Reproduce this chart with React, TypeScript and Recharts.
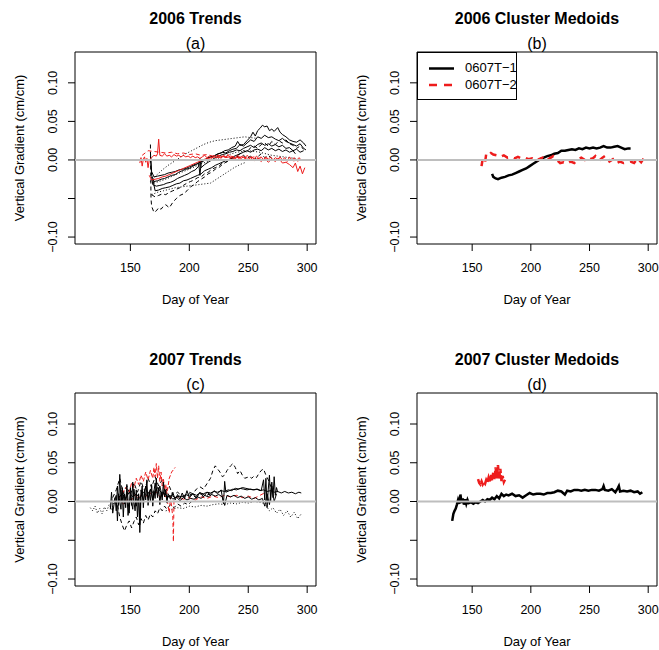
import { LineChart, Line, XAxis, YAxis, ReferenceLine, ReferenceArea } from 'recharts'

type Pt = [number, number]

// ---- 2006 trends (a) ----
const a06Solid1: Pt[] = [[167,0.005],[168,-0.015],[170,-0.022],[173,-0.021],[176,-0.020],[179,-0.019],[182,-0.017],[185,-0.016],[188,-0.015],[191,-0.013],[194,-0.012],[197,-0.011],[200,-0.009],[203,-0.007],[206,-0.005],[209,-0.003],[212,-0.001],[215,0.002],[218,0.004],[221,0.005],[224,0.008],[227,0.009],[230,0.012],[233,0.013],[236,0.016],[239,0.018],[241,0.024],[243,0.019],[246,0.020],[249,0.025],[252,0.030],[254,0.036],[256,0.031],[258,0.038],[260,0.041],[262,0.045],[264,0.043],[266,0.044],[268,0.038],[270,0.040],[272,0.037],[275,0.042],[277,0.036],[279,0.033],[282,0.030],[285,0.026],[288,0.024],[291,0.023],[294,0.026],[297,0.022],[299,0.018]]
const a06Solid2: Pt[] = [[167,0.010],[168,-0.020],[170,-0.028],[173,-0.027],[176,-0.025],[179,-0.024],[182,-0.022],[185,-0.020],[188,-0.019],[191,-0.016],[194,-0.014],[197,-0.012],[200,-0.011],[203,-0.008],[206,-0.006],[208,-0.004],[209,-0.020],[210,-0.004],[213,0.000],[216,0.003],[219,0.004],[222,0.006],[225,0.008],[228,0.010],[231,0.009],[234,0.012],[237,0.014],[240,0.015],[243,0.020],[246,0.018],[249,0.022],[252,0.026],[255,0.024],[258,0.030],[261,0.028],[264,0.032],[267,0.029],[270,0.030],[273,0.027],[276,0.025],[279,0.028],[282,0.024],[285,0.022],[288,0.020],[291,0.018],[294,0.021],[297,0.015],[299,0.013]]
const a06Solid3: Pt[] = [[168,-0.022],[169,-0.032],[172,-0.034],[175,-0.033],[178,-0.032],[181,-0.030],[184,-0.029],[187,-0.027],[190,-0.024],[193,-0.022],[196,-0.020],[199,-0.018],[202,-0.015],[205,-0.013],[208,-0.008],[209,0.002],[210,-0.010],[213,-0.006],[216,-0.003],[219,0.000],[222,0.003],[225,0.005],[228,0.007],[231,0.008],[234,0.010],[237,0.011],[240,0.013],[243,0.012],[246,0.015],[249,0.017],[252,0.019],[255,0.016],[258,0.020],[261,0.022],[264,0.019],[267,0.021],[270,0.018],[273,0.020],[276,0.017],[279,0.019],[282,0.015],[285,0.016],[288,0.012],[291,0.014],[294,0.010],[297,0.012]]
const a06Solid4: Pt[] = [[169,-0.025],[171,-0.040],[174,-0.039],[177,-0.037],[180,-0.036],[183,-0.035],[186,-0.033],[189,-0.031],[192,-0.030],[195,-0.027],[198,-0.026],[201,-0.024],[204,-0.022],[207,-0.020],[210,-0.018],[213,-0.014],[216,-0.012],[219,-0.010],[222,-0.007],[225,-0.005],[228,-0.003],[231,-0.001],[234,0.001],[237,0.004],[240,0.006],[243,0.008],[246,0.010],[249,0.012],[252,0.010],[255,0.013],[258,0.014],[261,0.012],[264,0.016],[267,0.013],[270,0.015],[273,0.012],[276,0.014],[279,0.011],[282,0.013],[285,0.010],[288,0.012],[290,0.008]]
const a06Dash1: Pt[] = [[167,0.020],[167.5,-0.050],[168,-0.060],[170,-0.068],[172,-0.066],[174,-0.062],[176,-0.064],[178,-0.060],[180,-0.058],[183,-0.062],[186,-0.055],[189,-0.050],[192,-0.046],[195,-0.044],[198,-0.040],[201,-0.035],[204,-0.032],[207,-0.028],[210,-0.025],[213,-0.022],[216,-0.018],[219,-0.016],[222,-0.012],[225,-0.010],[228,-0.006],[231,-0.003],[234,0.000],[237,0.003],[240,0.005],[243,0.003],[246,0.006],[249,0.002],[252,0.005],[255,0.000],[258,0.004],[261,0.008],[264,0.003],[267,0.006],[270,0.002]]
const a06Dash2: Pt[] = [[168,-0.045],[171,-0.048],[174,-0.046],[177,-0.044],[180,-0.045],[183,-0.042],[186,-0.040],[189,-0.038],[192,-0.036],[195,-0.033],[198,-0.030],[201,-0.028],[204,-0.026],[207,-0.023],[210,-0.022],[213,-0.018],[216,-0.016],[219,-0.012],[222,-0.010],[225,-0.008],[228,-0.004],[231,-0.003],[234,0.000],[237,0.002],[240,0.005],[243,0.008],[246,0.012],[249,0.010],[252,0.016],[255,0.018],[258,0.015],[261,0.020],[264,0.022],[267,0.018],[270,0.024],[273,0.020],[276,0.025],[279,0.022],[282,0.026],[285,0.021],[288,0.019],[291,0.015],[294,0.018],[297,0.014]]
const a06Dot1: Pt[] = [[167,-0.028],[172,-0.020],[177,-0.013],[182,-0.007],[187,-0.002],[192,0.003],[197,0.008],[202,0.012],[207,0.016],[212,0.020],[217,0.023],[222,0.025],[227,0.026],[232,0.027],[237,0.028],[242,0.029],[247,0.030],[252,0.029],[257,0.028]]
const a06Dot2: Pt[] = [[168,-0.045],[173,-0.042],[178,-0.040],[183,-0.038],[188,-0.036],[193,-0.035],[198,-0.034],[203,-0.033],[208,-0.032],[213,-0.031],[218,-0.030],[223,-0.025],[228,-0.020],[233,-0.015],[238,-0.010],[243,-0.006],[248,-0.003]]
const a06Dot3: Pt[] = [[170,-0.030],[180,-0.025],[190,-0.018],[200,-0.012],[210,-0.005],[220,0.000],[230,0.005],[240,0.010],[250,0.012],[260,0.010],[270,0.006],[280,0.004],[290,0.002]]
const a06Red1: Pt[] = [[158,-0.004],[159,0.003],[160,-0.008],[161,0.001],[162,0.004],[163,-0.003],[164,0.002],[165,-0.010],[166,0.000],[168,0.003],[170,0.006],[172,0.005],[173,0.008],[174,0.027],[175,0.006],[177,0.005],[179,0.008],[181,0.005],[183,0.006],[185,0.004],[187,0.007],[189,0.005],[191,0.006],[193,0.004],[195,0.006],[197,0.004],[199,0.005],[201,0.003],[203,0.005],[205,0.003],[207,0.004],[209,0.002],[211,0.004],[213,0.006],[215,0.003],[217,0.005],[219,0.002],[221,0.006],[223,0.003],[225,0.005],[227,0.002],[229,0.006],[231,0.003],[233,0.007],[235,0.002],[237,0.005],[239,0.001],[241,0.006],[243,0.003],[245,0.005],[247,0.002],[249,0.006],[251,0.003],[253,0.004],[255,0.001],[257,0.005],[259,0.002],[261,0.004],[263,0.000],[265,0.003],[267,0.001],[269,0.004],[271,0.000],[273,0.003],[275,0.001],[277,0.004],[279,0.000],[281,0.003],[283,-0.002],[285,0.004],[287,0.000],[289,0.003],[291,-0.001],[293,0.003],[295,0.000]]
const a06Red2: Pt[] = [[166,-0.020],[168,-0.026],[171,-0.025],[174,-0.024],[177,-0.022],[180,-0.021],[183,-0.019],[186,-0.017],[189,-0.015],[192,-0.013],[195,-0.011],[198,-0.009],[201,-0.007],[204,-0.005],[207,-0.003],[210,-0.001],[213,0.001],[216,0.002],[219,0.003],[222,0.004],[225,0.003],[228,0.005],[231,0.003],[234,0.004],[237,0.002],[240,0.004],[243,0.001],[246,0.004],[249,0.000],[252,0.003],[255,-0.001],[258,0.002],[261,-0.002],[264,0.002],[267,-0.003],[270,0.001],[273,-0.002],[276,0.002],[279,-0.004],[282,-0.003],[285,-0.006],[288,-0.010],[290,-0.004],[292,-0.015],[294,-0.008],[296,-0.018],[298,-0.010]]
const a06Red3: Pt[] = [[160,0.006],[165,0.012],[170,0.011],[175,0.010],[180,0.009],[185,0.010],[190,0.008],[195,0.009],[200,0.007],[205,0.008],[210,0.006],[215,0.007],[220,0.005],[225,0.006],[230,0.004],[235,0.005],[240,0.003],[245,0.004],[250,0.002],[255,0.004],[260,0.001],[265,0.003],[270,0.000],[275,0.002],[280,-0.001],[285,0.001],[290,-0.002],[295,0.000]]

// ---- 2006 medoids (b) ----
const b06Med1: Pt[] = [[167,-0.018],[168,-0.022],[170,-0.024],[172,-0.025],[175,-0.023],[178,-0.022],[181,-0.020],[184,-0.019],[187,-0.017],[190,-0.015],[193,-0.013],[196,-0.011],[199,-0.008],[202,-0.005],[205,-0.002],[208,0.001],[211,0.003],[214,0.005],[217,0.006],[220,0.008],[223,0.009],[226,0.012],[229,0.012],[232,0.013],[235,0.014],[238,0.013],[241,0.015],[244,0.014],[247,0.016],[250,0.015],[253,0.016],[256,0.015],[259,0.016],[262,0.018],[265,0.016],[268,0.016],[271,0.017],[274,0.018],[277,0.016],[280,0.014],[283,0.015],[285,0.015]]
const b06Med2: Pt[] = [[158,-0.008],[159,0.002],[161,-0.003],[162,0.008],[164,0.006],[166,0.009],[168,0.007],[171,0.006],[174,0.004],[177,0.006],[180,0.003],[183,0.004],[186,0.002],[189,0.004],[192,0.002],[195,0.003],[198,0.001],[201,0.002],[204,-0.002],[207,0.001],[210,0.003],[213,-0.001],[216,0.002],[219,0.005],[222,0.000],[225,-0.004],[228,-0.003],[231,-0.005],[234,-0.002],[237,-0.004],[240,0.001],[243,0.003],[246,0.000],[249,0.004],[252,0.001],[255,0.005],[258,-0.001],[261,0.003],[264,0.006],[267,-0.002],[270,0.001],[273,-0.004],[276,-0.002],[279,-0.004],[282,-0.003],[285,-0.002],[288,-0.004],[291,0.002],[294,-0.003],[297,0.004],[300,0.003]]

// ---- 2007 trends (c) ----
const c07Solid1: Pt[] = [[133,-0.010],[134,0.012],[135,-0.015],[137,0.005],[138,-0.012],[139,0.020],[140,-0.005],[141,0.035],[142,0.000],[143,0.015],[144,-0.020],[145,0.010],[146,-0.008],[147,0.022],[148,0.002],[149,-0.015],[150,0.018],[151,-0.005],[152,0.025],[153,0.000],[154,-0.012],[155,0.015],[156,-0.020],[157,0.010],[158,-0.040],[159,0.005],[160,0.020],[161,-0.008],[162,0.015],[163,0.002],[164,0.028],[165,-0.005],[166,0.012],[167,0.000],[168,0.022],[169,-0.006],[170,0.014],[171,0.004],[172,0.030],[173,0.005],[174,0.018],[175,-0.004],[176,0.012],[177,0.002],[178,0.025],[179,0.006],[180,0.015],[181,-0.002],[182,0.010],[184,0.003],[186,0.012],[188,0.002],[190,0.009],[192,0.003],[194,0.011],[196,0.004],[198,0.014],[200,0.005],[203,0.010],[206,0.004],[209,0.012],[212,0.006],[215,0.012],[218,0.008],[221,0.014],[224,0.010],[227,0.015],[229,-0.003],[230,0.026],[231,0.012],[234,0.014],[237,0.016],[240,0.015],[243,0.017],[246,0.016],[249,0.015],[252,0.016],[255,0.015],[258,0.016],[261,0.014],[263,0.028],[264,0.002],[265,0.030],[266,-0.008],[267,0.016],[268,0.034],[269,0.000],[270,0.025],[271,0.005],[272,0.032],[273,0.008],[274,0.018],[275,0.012]]
const c07Solid2: Pt[] = [[136,0.000],[138,0.008],[139,-0.025],[140,0.010],[142,-0.010],[143,0.018],[145,-0.003],[147,0.012],[148,-0.018],[150,0.008],[152,-0.010],[153,0.016],[155,-0.006],[157,0.008],[158,-0.030],[159,0.015],[161,0.000],[163,0.020],[165,0.004],[167,0.016],[169,0.002],[171,0.024],[173,0.008],[175,0.020],[177,0.006],[179,0.016],[181,0.004],[183,0.008],[186,0.003],[189,0.006],[192,0.001],[195,0.005],[198,0.002],[201,0.004],[204,0.003],[207,0.006],[210,0.004],[213,0.008],[216,0.006],[219,0.009],[222,0.007],[225,0.009],[228,0.006],[230,-0.005],[232,0.008],[235,0.006],[238,0.008],[241,0.005],[244,0.007],[247,0.004],[250,0.006],[253,0.003],[256,0.005],[259,0.002],[262,0.004],[264,-0.006],[266,0.010],[268,-0.004],[270,0.020],[272,0.000],[274,0.010]]
const c07Solid3: Pt[] = [[140,0.005],[143,0.010],[146,0.004],[149,0.012],[152,0.006],[155,0.010],[158,0.004],[161,0.012],[164,0.008],[167,0.015],[170,0.010],[173,0.018],[176,0.012],[179,0.010],[182,0.006],[185,0.008],[188,0.005],[191,0.007],[194,0.006],[197,0.009],[200,0.007],[203,0.010],[206,0.008],[209,0.011],[212,0.010],[215,0.012],[218,0.011],[221,0.013],[224,0.012],[227,0.014],[230,0.013],[233,0.015],[236,0.014],[239,0.017],[242,0.016],[245,0.018],[248,0.017],[251,0.016],[254,0.015],[257,0.016],[260,0.014],[263,0.015],[266,0.013],[269,0.014],[272,0.012],[275,0.013],[278,0.011],[281,0.013],[284,0.011],[287,0.012],[290,0.010],[293,0.012],[295,0.011]]
const c07Dash1: Pt[] = [[200,0.012],[203,0.010],[206,0.016],[209,0.019],[212,0.016],[215,0.023],[218,0.030],[220,0.040],[222,0.046],[224,0.042],[226,0.038],[228,0.032],[230,0.034],[232,0.040],[235,0.046],[237,0.049],[239,0.044],[241,0.036],[243,0.040],[245,0.034],[247,0.030],[249,0.031],[251,0.032],[253,0.030],[255,0.033],[257,0.031],[259,0.036],[261,0.040],[263,0.042],[265,0.034],[267,0.028],[269,0.020],[271,0.015]]
const c07Dash2: Pt[] = [[139,-0.005],[141,-0.020],[143,-0.030],[145,-0.038],[147,-0.030],[149,-0.025],[151,-0.034],[153,-0.026],[155,-0.020],[157,-0.030],[159,-0.022],[161,-0.028],[163,-0.018],[165,-0.024],[167,-0.016],[169,-0.020],[171,-0.012],[173,-0.016],[175,-0.008],[177,-0.012],[179,-0.006],[181,-0.010],[184,-0.004],[187,-0.008],[190,-0.003],[193,-0.006],[196,-0.002],[199,-0.004],[202,0.000]]
const c07Dash3: Pt[] = [[135,0.005],[138,0.015],[141,0.030],[144,0.010],[147,0.020],[150,0.008],[153,0.024],[156,0.012],[159,0.026],[162,0.014],[165,0.030],[168,0.018],[171,0.032],[174,0.020],[177,0.028],[180,0.014],[183,0.020],[186,0.008],[190,0.012],[195,0.006],[200,0.010],[205,0.006],[210,0.010],[215,0.008],[220,0.012]]
const c07Dot1: Pt[] = [[116,-0.008],[118,-0.012],[120,-0.006],[122,-0.015],[124,-0.009],[126,-0.016],[128,-0.007],[130,-0.012],[132,-0.004],[134,-0.010],[136,-0.002]]
const c07Dot2: Pt[] = [[180,-0.012],[185,-0.010],[190,-0.008],[195,-0.009],[200,-0.006],[205,-0.007],[210,-0.005],[215,-0.006],[220,-0.004],[225,-0.003],[230,-0.004],[235,-0.002],[240,-0.003],[245,-0.001],[250,-0.002],[255,0.000],[260,-0.001],[265,-0.003]]
const c07Dot3: Pt[] = [[265,-0.005],[268,-0.012],[271,-0.008],[274,-0.015],[277,-0.010],[280,-0.018],[283,-0.012],[286,-0.020],[289,-0.014],[292,-0.022],[295,-0.016]]
const c07Red1: Pt[] = [[140,0.004],[143,0.010],[146,0.018],[149,0.012],[151,0.024],[153,0.018],[155,0.030],[157,0.022],[159,0.034],[161,0.026],[163,0.038],[165,0.028],[167,0.040],[169,0.030],[170,0.044],[171,0.032],[172,0.049],[173,0.030],[174,0.046],[175,0.026],[176,0.038],[177,0.020],[178,0.030],[179,0.014],[180,0.022],[181,0.010],[183,0.030],[185,0.038],[187,0.042],[188,0.044]]
const c07Red2: Pt[] = [[142,0.000],[145,-0.004],[148,0.004],[151,0.002],[154,0.008],[157,0.004],[160,0.010],[163,0.006],[166,0.012],[169,0.008],[172,0.012],[175,0.006],[178,0.010],[181,0.004],[183,-0.015],[184,0.006],[186,-0.020],[186.5,-0.052],[187,0.004],[190,0.006],[195,0.003],[200,0.005],[205,0.002],[210,0.006],[215,0.004],[220,0.007],[225,0.005],[230,0.008],[235,0.006],[240,0.008],[245,0.005],[250,0.007],[255,0.004],[260,0.008],[265,0.012]]

// ---- 2007 medoids (d) ----
const d07Med1: Pt[] = [[133,-0.025],[134,-0.016],[135,-0.012],[136,-0.009],[137,-0.004],[138,0.002],[139,-0.003],[140,0.009],[141,-0.002],[142,0.004],[143,-0.004],[144,0.003],[145,-0.003],[146,0.002],[147,-0.002],[149,-0.001],[151,-0.003],[153,-0.001],[155,-0.002],[157,0.000],[159,0.002],[161,0.000],[163,0.003],[165,0.002],[167,0.005],[169,0.003],[171,0.007],[173,0.004],[175,0.010],[177,0.007],[179,0.009],[181,0.008],[184,0.010],[187,0.007],[190,0.008],[193,0.005],[196,0.008],[199,0.011],[202,0.009],[205,0.010],[208,0.010],[211,0.009],[214,0.011],[217,0.011],[220,0.012],[223,0.014],[226,0.013],[229,0.009],[231,0.014],[234,0.013],[237,0.015],[240,0.015],[243,0.014],[246,0.015],[249,0.014],[252,0.015],[255,0.015],[258,0.014],[261,0.016],[262,0.020],[263,0.015],[266,0.014],[269,0.016],[272,0.012],[274,0.017],[275,0.020],[276,0.013],[279,0.014],[282,0.013],[285,0.014],[288,0.012],[291,0.013],[293,0.010],[295,0.012]]
const d07Med2: Pt[] = [[155,0.029],[156,0.024],[157,0.022],[158,0.026],[159,0.022],[160,0.025],[161,0.023],[162,0.028],[163,0.025],[164,0.031],[165,0.026],[166,0.035],[167,0.027],[168,0.038],[169,0.029],[170,0.044],[171,0.030],[172,0.047],[173,0.029],[174,0.042],[175,0.026],[176,0.033],[177,0.025],[178,0.028]]

const xTicks = [150, 200, 250, 300]
const yTicks = [-0.1, -0.05, 0, 0.05, 0.1]
const yTickText: Record<string, string> = { '0.1': '0.10', '0.05': '0.05', '0': '0.00', '-0.1': '\u22120.10' }

const FONT = '"Liberation Sans", Arial, Helvetica, sans-serif'
const RED = '#ee1c1c'
const XDOM: [number, number] = [103, 307.5]
const YDOM: [number, number] = [-0.109, 0.14]

type Series = { pts: Pt[]; color: string; width: number; dash?: string }

const SOLID = (pts: Pt[], w = 1): Series => ({ pts, color: '#000', width: w })
const DASH = (pts: Pt[]): Series => ({ pts, color: '#000', width: 1, dash: '4 3' })
const DOT = (pts: Pt[]): Series => ({ pts, color: '#000', width: 1, dash: '1 2' })

const panelA: Series[] = [
  DOT(a06Dot1), DOT(a06Dot2), DOT(a06Dot3),
  DASH(a06Dash1), DASH(a06Dash2),
  SOLID(a06Solid1), SOLID(a06Solid2), SOLID(a06Solid3), SOLID(a06Solid4),
  { pts: a06Red3, color: RED, width: 1, dash: '4 3' },
  { pts: a06Red1, color: RED, width: 1 },
  { pts: a06Red2, color: RED, width: 1 },
]
const panelB: Series[] = [
  SOLID(b06Med1, 2.5),
  { pts: b06Med2, color: RED, width: 2.5, dash: '7 6' },
]
const panelC: Series[] = [
  DOT(c07Dot1), DOT(c07Dot2), DOT(c07Dot3),
  DASH(c07Dash1), DASH(c07Dash2), DASH(c07Dash3),
  { pts: c07Red1, color: RED, width: 1, dash: '4 2' },
  { pts: c07Red2, color: RED, width: 1, dash: '4 3' },
  SOLID(c07Solid3), SOLID(c07Solid2), SOLID(c07Solid1),
]
const panelD: Series[] = [
  SOLID(d07Med1, 2.5),
  { pts: d07Med2, color: RED, width: 2.5, dash: '6 2' },
]

const PAD_L = 72, PAD_T = 5, PAD_B = 40, PAD_R = 2

function XTick(props: any) {
  const { x, payload, plotBottom } = props
  return (
    <text x={x} y={plotBottom + 24} textAnchor="middle" dominantBaseline="central" fontSize={12.5} fill="#000" fontFamily={FONT}>{payload.value}</text>
  )
}

function YTick(props: any) {
  const { y, payload } = props
  const label = yTickText[String(payload.value)]
  if (!label) return <g />
  return (
    <g transform={`translate(${PAD_L - 22},${y}) rotate(-90)`}>
      <text x={0} y={0} textAnchor="middle" dominantBaseline="central" fontSize={12.5} fill="#000" fontFamily={FONT}>{label}</text>
    </g>
  )
}

function Panel({ left, top, w, h, title, tag, series }: { left: number; top: number; w: number; h: number; title: string; tag: string; series: Series[] }) {
  const cx = left + w / 2
  const yLabel = (
    <g transform={`translate(${PAD_L - 56},${PAD_T + h / 2}) rotate(-90)`}>
      <text x={0} y={0} textAnchor="middle" dominantBaseline="central" fontSize={13} fill="#000" fontFamily={FONT}>Vertical Gradient (cm/cm)</text>
    </g>
  )
  return (
    <>
      <div style={{ position: 'absolute', left: cx - 150, width: 300, top: top - 41, textAlign: 'center', fontWeight: 700, fontSize: 16, lineHeight: '16px' }}>{title}</div>
      <div style={{ position: 'absolute', left: cx - 50, width: 100, top: top - 16, textAlign: 'center', fontSize: 16, lineHeight: '16px' }}>{tag}</div>
      <div style={{ position: 'absolute', left: cx - 100, width: 200, top: top + h + 48, textAlign: 'center', fontSize: 13, lineHeight: '16px' }}>Day of Year</div>
      <div style={{ position: 'absolute', left: left - PAD_L, top: top - PAD_T }}>
        <LineChart width={PAD_L + w + PAD_R} height={PAD_T + h + PAD_B} margin={{ top: PAD_T, right: PAD_R, bottom: 0, left: 0 }}>
          <XAxis
            type="number" dataKey="d" domain={XDOM} ticks={xTicks} allowDataOverflow interval={0}
            axisLine={false} tickSize={7} tickLine={{ stroke: '#000' }} height={PAD_B}
            tick={<XTick plotBottom={PAD_T + h} />}
          />
          <YAxis
            type="number" domain={YDOM} ticks={yTicks} allowDataOverflow interval={0}
            axisLine={false} tickSize={7} tickLine={{ stroke: '#000' }} width={PAD_L}
            tick={<YTick />}
            label={() => yLabel}
          />
          {series.map((s, i) => (
            <Line
              key={i}
              data={s.pts.map(([d, v]) => ({ d, v }))}
              dataKey="v"
              type="linear"
              stroke={s.color}
              strokeWidth={s.width}
              strokeDasharray={s.dash}
              dot={false}
              activeDot={false}
              isAnimationActive={false}
            />
          ))}
          <ReferenceLine y={0} stroke="#bebebe" strokeWidth={2} />
          <ReferenceArea x1={XDOM[0]} x2={XDOM[1]} y1={YDOM[0]} y2={YDOM[1]} fill="none" fillOpacity={0} stroke="#000" strokeWidth={1} ifOverflow="visible" />
        </LineChart>
      </div>
    </>
  )
}

export default function App() {
  return (
    <div style={{ position: 'absolute', left: 0, top: 0, width: 659, height: 650, background: '#fff', fontFamily: FONT, color: '#000', overflow: 'hidden' }}>
      <Panel left={75} top={52} w={241} h={192} title="2006 Trends" tag="(a)" series={panelA} />
      <Panel left={417} top={52} w={240} h={192} title="2006 Cluster Medoids" tag="(b)" series={panelB} />
      <Panel left={75} top={392.5} w={241} h={193} title="2007 Trends" tag="(c)" series={panelC} />
      <Panel left={417} top={392.5} w={240} h={193} title="2007 Cluster Medoids" tag="(d)" series={panelD} />

      {/* legend of panel b */}
      <div style={{ position: 'absolute', left: 417, top: 52, width: 100, height: 48, border: '1px solid #000', background: '#fff', boxSizing: 'border-box' }}>
        <svg width={30} height={40} style={{ position: 'absolute', left: 10, top: 4 }}>
          <line x1={1} y1={11.5} x2={26} y2={11.5} stroke="#000" strokeWidth={2.5} />
          <line x1={1} y1={28} x2={26} y2={28} stroke={RED} strokeWidth={2.5} strokeDasharray="8 7" />
        </svg>
        <div style={{ position: 'absolute', left: 47, top: 7, fontSize: 13, lineHeight: '16px', whiteSpace: 'nowrap' }}>0607T{'\u2212'}1</div>
        <div style={{ position: 'absolute', left: 47, top: 24, fontSize: 13, lineHeight: '16px', whiteSpace: 'nowrap' }}>0607T{'\u2212'}2</div>
      </div>
    </div>
  )
}
